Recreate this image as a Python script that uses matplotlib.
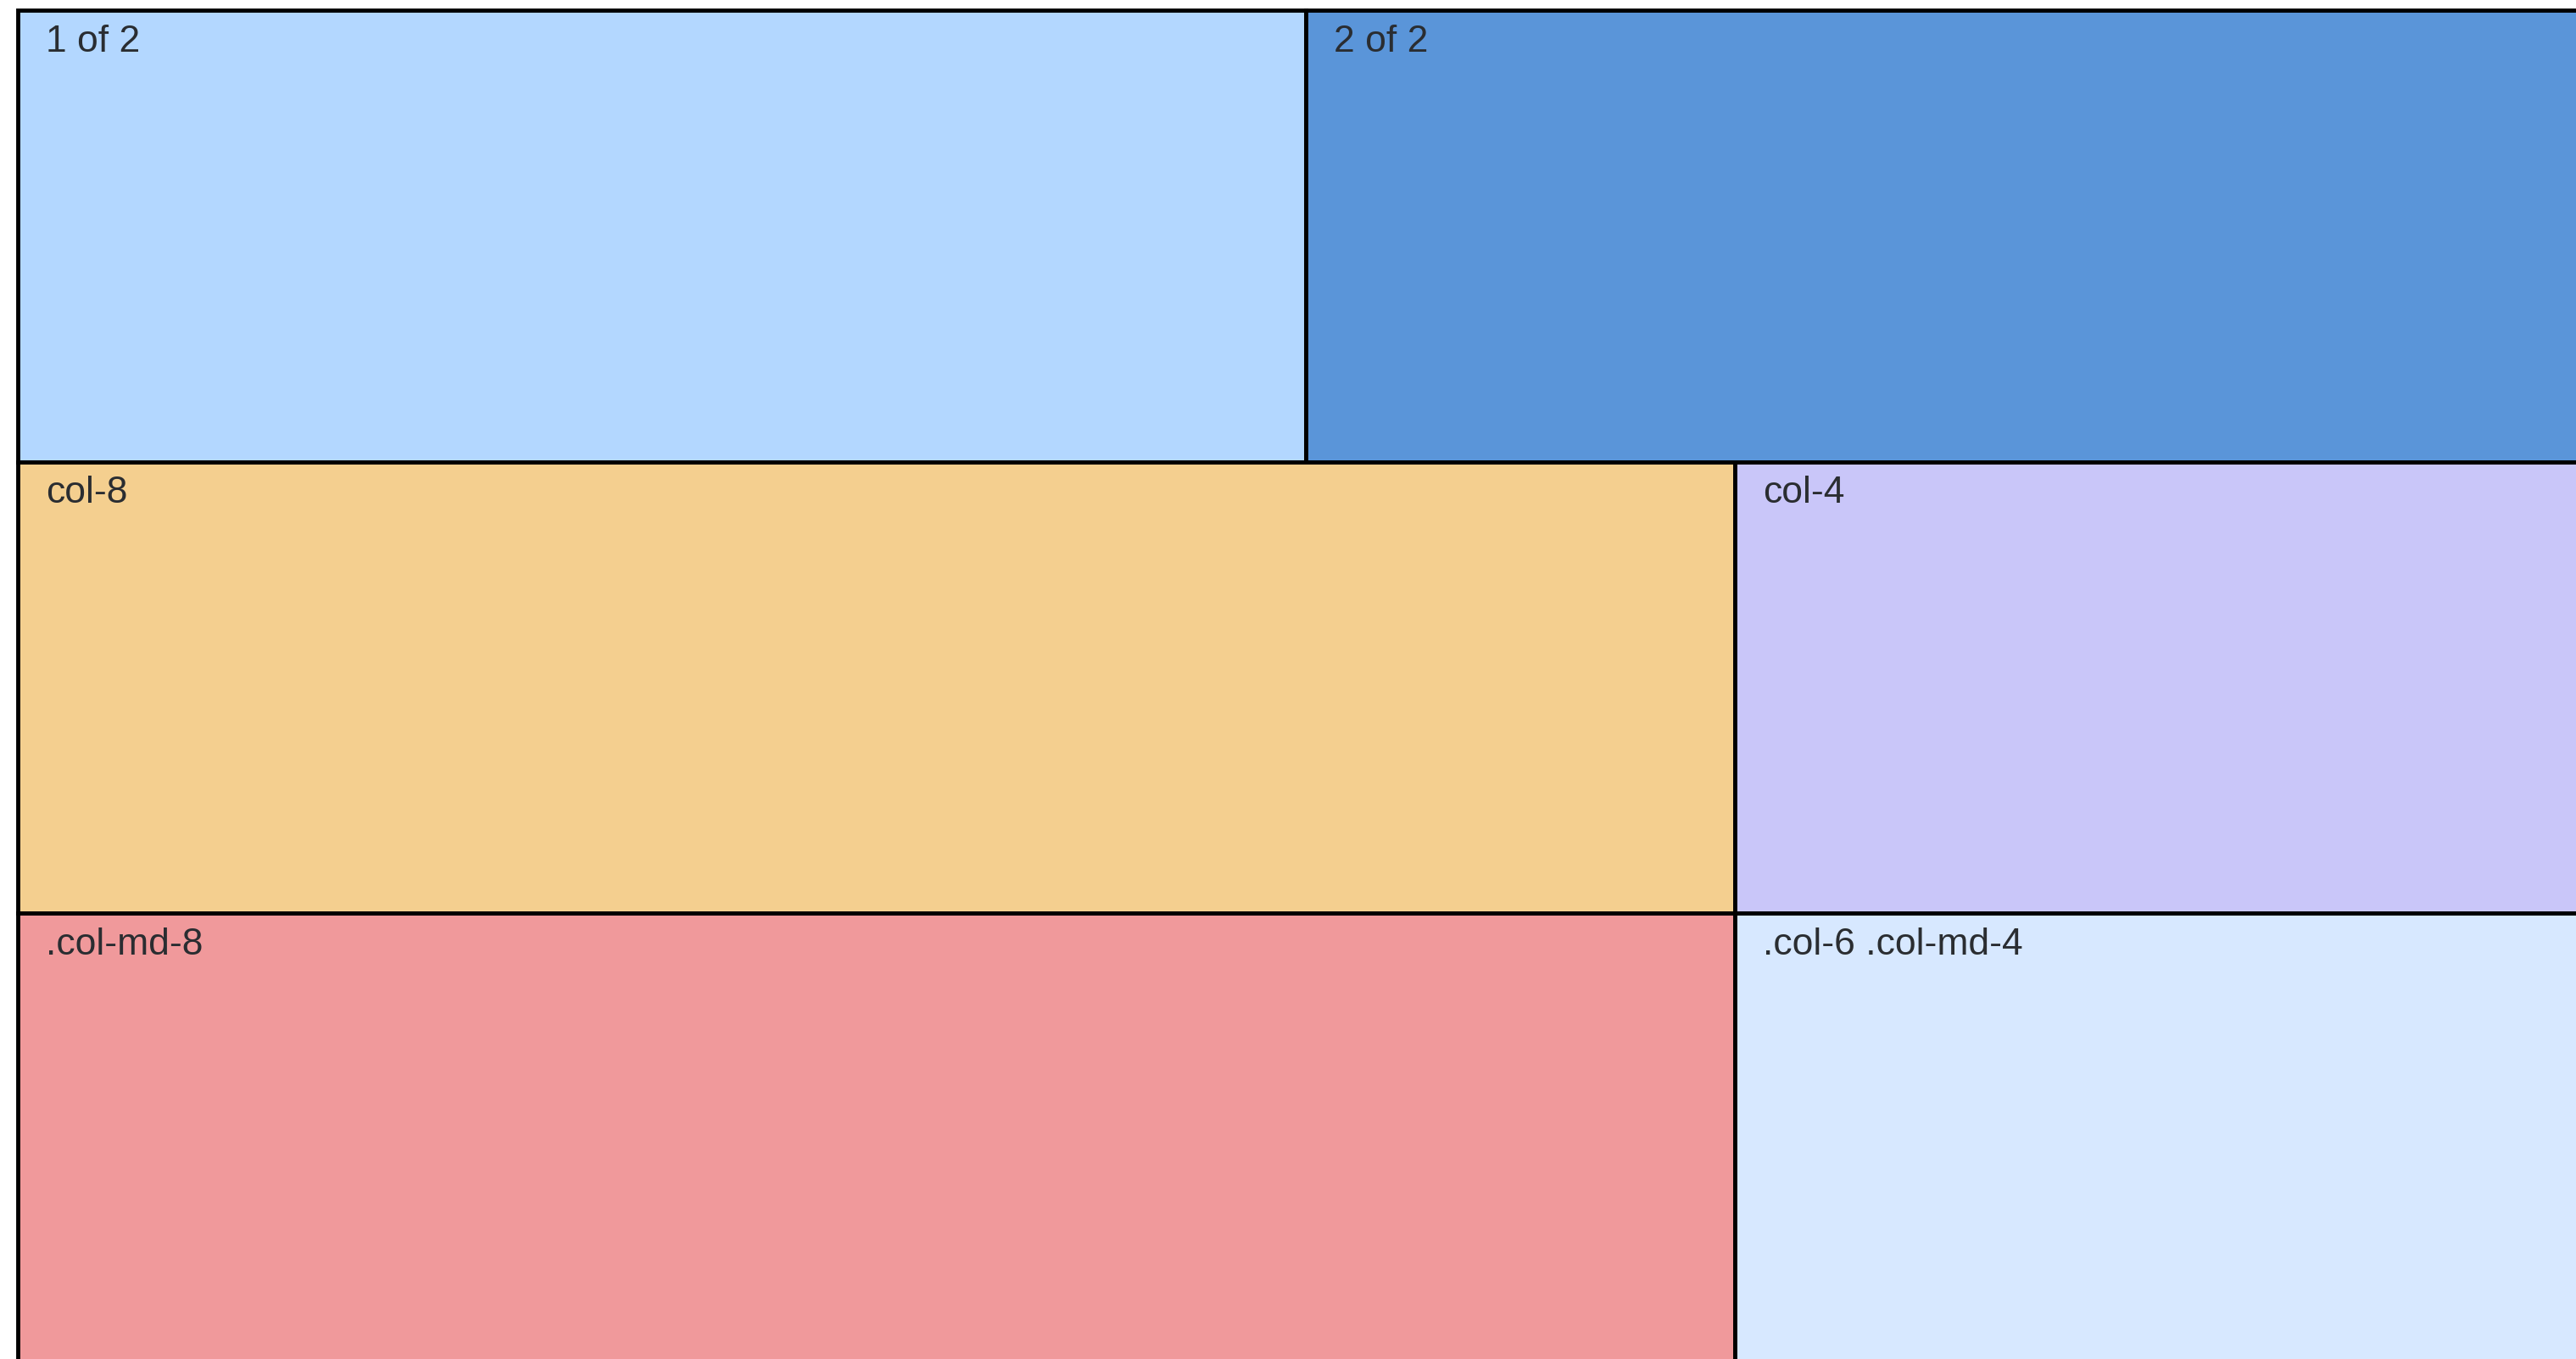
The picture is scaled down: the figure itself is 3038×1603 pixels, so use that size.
import matplotlib
matplotlib.use("Agg")
import matplotlib.pyplot as plt

# bootstrap-like grid: 12 columns per row
labels = ["1 of 2", "2 of 2", "col-8", "col-4", ".col-md-8", ".col-6 .col-md-4"]
rows = [0, 0, 1, 1, 2, 2]
col_start = [0, 6, 0, 8, 0, 8]
col_span = [6, 6, 8, 4, 8, 4]
colors = ["#b3d7ff", "#5a95d9", "#f4cf8f", "#c9c6f9", "#f0999b", "#d7e8ff"]

W, H, DPI = 3038, 1603, 100
COL_PX = W / 12.0
ROW_PX = 532.7
X0, Y0 = 21, 12

fig = plt.figure(figsize=(W / DPI, H / DPI), dpi=DPI)
ax = fig.add_axes([0, 0, 1, 1])
ax.set_xlim(-X0 / COL_PX, (W - X0) / COL_PX)
ax.set_ylim((H - Y0) / ROW_PX, -Y0 / ROW_PX)
ax.axis("off")

ax.bar(col_start, [1] * len(rows), width=col_span, bottom=rows, align="edge",
       color=colors, edgecolor="black", linewidth=3.5)

for lab, r, c in zip(labels, rows, col_start):
    ax.annotate(lab, xy=(c, r), xytext=(23.5, -35), textcoords="offset points",
                ha="left", va="baseline", fontsize=32, color="#2a2d31",
                family=["Liberation Sans", "DejaVu Sans"])

fig.savefig("out.png", dpi=DPI)
